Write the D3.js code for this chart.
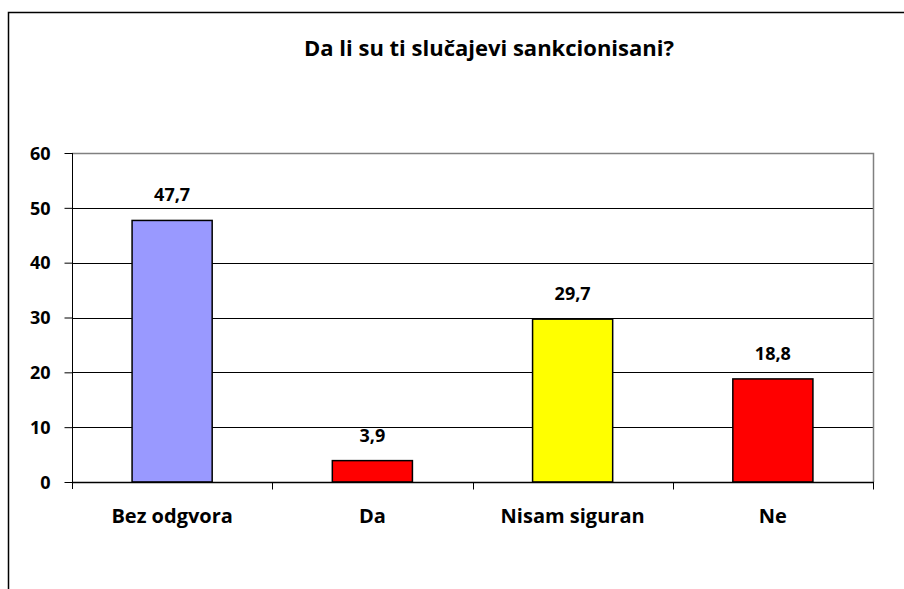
<!DOCTYPE html>
<html>
<head>
<meta charset="utf-8">
<script src="https://cdn.jsdelivr.net/npm/d3@7"></script>
<style>
  body { margin: 0; background: #fff; }
  text { font-family: "Open Sans", sans-serif; font-weight: bold; fill: #000; }
</style>
</head>
<body>
<div id="chart"></div>
<script>
  var categories = ["Bez odgvora", "Da", "Nisam siguran", "Ne"];
  var values = [47.7, 3.9, 29.7, 18.8];
  var colors = ["#9999ff", "#ff0000", "#ffff00", "#ff0000"];
  var yTicks = [0, 10, 20, 30, 40, 50, 60];
  var title = "Da li su ti slučajevi sankcionisani?";

  var W = 904, H = 589;
  var plotL = 72, plotT = 153, plotR = 873, plotB = 482;

  var svg = d3.select("#chart").append("svg")
    .attr("width", W)
    .attr("height", H);

  // outer chart frame (cropped on right and bottom)
  svg.append("rect")
    .attr("x", 8.5).attr("y", 12.5)
    .attr("width", 1000).attr("height", 1000)
    .attr("fill", "#fff")
    .attr("stroke", "#000")
    .attr("stroke-width", 1.5);

  svg.append("text")
    .attr("x", 489).attr("y", 56)
    .attr("text-anchor", "middle")
    .style("font-size", "22px")
    .text(title);

  var x = d3.scaleBand().domain(categories).range([plotL, plotR]).paddingInner(0.6).paddingOuter(0.3);
  var xEdge = d3.scaleLinear().domain([0, categories.length]).range([plotL, plotR]);
  var y = d3.scaleLinear().domain([0, 60]).range([plotB, plotT]);

  // gridlines
  svg.append("g").selectAll("line")
    .data(yTicks.slice(1, -1))
    .join("line")
    .attr("x1", plotL).attr("x2", plotR)
    .attr("y1", function(d) { return Math.round(y(d)) + 0.5; })
    .attr("y2", function(d) { return Math.round(y(d)) + 0.5; })
    .attr("stroke", "#000");

  // plot area border top and right
  svg.append("path")
    .attr("d", "M" + plotL + "," + (plotT + 0.5) + "H" + (plotR + 0.5) + "V" + plotB)
    .attr("fill", "none")
    .attr("stroke", "#808080")
    .attr("stroke-width", 1.5);

  // bars
  svg.append("g").selectAll("rect")
    .data(values)
    .join("rect")
    .attr("x", function(d, i) { return x(categories[i]); })
    .attr("y", function(d) { return y(d); })
    .attr("width", x.bandwidth())
    .attr("height", function(d) { return plotB - y(d); })
    .attr("fill", function(d, i) { return colors[i]; })
    .attr("stroke", "#000")
    .attr("stroke-width", 1.5);

  // value labels
  svg.append("g").selectAll("text")
    .data(values)
    .join("text")
    .attr("x", function(d, i) { return x(categories[i]) + x.bandwidth() / 2; })
    .attr("y", function(d) { return y(d) - 19; })
    .attr("text-anchor", "middle")
    .style("font-size", "18px")
    .text(function(d) { return String(d).replace(".", ","); });

  // y axis
  var yAxis = svg.append("g")
    .attr("transform", "translate(" + (plotL + 0.5) + ",0)")
    .call(d3.axisLeft(y).tickValues(yTicks).tickSize(8).tickPadding(14));
  yAxis.select(".domain").attr("d", "M0," + plotT + "V" + (plotB + 7)).attr("stroke", "#000");
  yAxis.selectAll(".tick line").attr("stroke", "#000");
  yAxis.selectAll(".tick text").style("font-size", "18px").attr("dy", "0.35em");

  // x axis
  var xAxis = svg.append("g")
    .attr("transform", "translate(0," + (plotB + 0.5) + ")");
  xAxis.append("line")
    .attr("x1", plotL).attr("x2", plotR + 1)
    .attr("stroke", "#000").attr("stroke-width", 1.5);
  xAxis.selectAll(".edge")
    .data(d3.range(1, categories.length + 1))
    .join("line")
    .attr("class", "edge")
    .attr("x1", function(d) { return Math.round(xEdge(d)) + 0.5; })
    .attr("x2", function(d) { return Math.round(xEdge(d)) + 0.5; })
    .attr("y1", 0).attr("y2", 7)
    .attr("stroke", "#000");
  xAxis.selectAll(".cat")
    .data(categories)
    .join("text")
    .attr("class", "cat")
    .attr("x", function(d) { return x(d) + x.bandwidth() / 2; })
    .attr("y", 40)
    .attr("text-anchor", "middle")
    .style("font-size", "20px")
    .text(function(d) { return d; });
</script>
</body>
</html>
